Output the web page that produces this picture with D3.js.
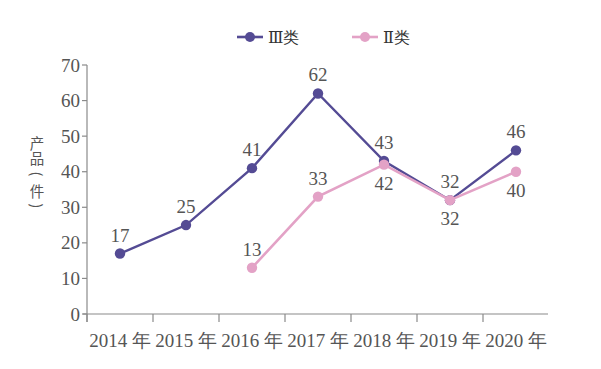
<!DOCTYPE html>
<html>
<head>
<meta charset="utf-8">
<script src="https://cdn.jsdelivr.net/npm/d3@7"></script>
<style>
  body { margin: 0; background: #fff; }
  svg { display: block; }
</style>
</head>
<body>
<svg id="chart" width="601" height="369"></svg>
<script>
const years = ['2014 年', '2015 年', '2016 年', '2017 年', '2018 年', '2019 年', '2020 年'];
const class3 = [17, 25, 41, 62, 43, 32, 46];
const class2 = [null, null, 13, 33, 42, 32, 40];
const yTicks = [0, 10, 20, 30, 40, 50, 60, 70];
// label placement for the pink series: above or below the point
const class2LabelPos = ['', '', 'up', 'up', 'down', 'down', 'down'];

const svg = d3.select('#chart');
const serif = '"Liberation Serif", "DejaVu Serif", serif';
const dark = '#544b94';
const pink = '#e3a2c6';
const axisColor = '#8a8a8a';
const textColor = '#555';

const x = d3.scaleBand().domain(years).range([87, 549]);
const y = d3.scaleLinear().domain([0, 70]).range([314, 65]);

const g = svg.append('g');

// y axis
g.append('line')
  .attr('x1', 87).attr('x2', 87)
  .attr('y1', y(70)).attr('y2', 322)
  .attr('stroke', axisColor).attr('stroke-width', 1.2);

g.selectAll('.ytick')
  .data(yTicks)
  .enter().append('line')
  .attr('x1', 82).attr('x2', 87)
  .attr('y1', d => y(d)).attr('y2', d => y(d))
  .attr('stroke', axisColor).attr('stroke-width', 1.2);

g.selectAll('.ylab')
  .data(yTicks)
  .enter().append('text')
  .attr('x', 80)
  .attr('y', d => y(d) + 6.5)
  .attr('text-anchor', 'end')
  .attr('font-family', serif)
  .attr('font-size', 19)
  .attr('fill', textColor)
  .text(d => d);

// x axis
g.append('line')
  .attr('x1', 83).attr('x2', 548)
  .attr('y1', y(0)).attr('y2', y(0))
  .attr('stroke', axisColor).attr('stroke-width', 1.2);

g.selectAll('.xtick')
  .data(years)
  .enter().append('line')
  .attr('x1', d => x(d)).attr('x2', d => x(d))
  .attr('y1', y(0)).attr('y2', y(0) + 8)
  .attr('stroke', axisColor).attr('stroke-width', 1.2);

g.selectAll('.xlab')
  .data(years)
  .enter().append('text')
  .attr('x', d => x(d) + x.bandwidth() / 2)
  .attr('y', 347)
  .attr('text-anchor', 'middle')
  .attr('font-family', serif)
  .attr('font-size', 19)
  .attr('fill', textColor)
  .text(d => d);

// y axis title, stacked vertically; brackets turned to vertical form
const title = ['产', '品', '(', '件', ')'];
const titleY = [142, 157, 174, 190, 206];
g.selectAll('.ytitle')
  .data(title)
  .enter().append('text')
  .attr('x', 37)
  .attr('y', (d, i) => titleY[i])
  .attr('text-anchor', 'middle')
  .attr('dominant-baseline', 'central')
  .attr('font-family', '"Noto Sans CJK SC", sans-serif')
  .attr('font-size', 14.5)
  .attr('fill', textColor)
  .attr('transform', (d, i) => (d === '(' || d === ')')
    ? 'rotate(90,37,' + titleY[i] + ')' : null)
  .text(d => d);

const cx = (d, i) => x(years[i]) + x.bandwidth() / 2;

function drawSeries(values, color, width) {
  const line = d3.line()
    .defined(d => d != null)
    .x(cx)
    .y(d => y(d));
  g.append('path')
    .datum(values)
    .attr('fill', 'none')
    .attr('stroke', color)
    .attr('stroke-width', width)
    .attr('d', line);
  g.selectAll(null)
    .data(values.map((v, i) => ({ v, i })).filter(d => d.v != null))
    .enter().append('circle')
    .attr('cx', d => cx(d.v, d.i))
    .attr('cy', d => y(d.v))
    .attr('r', 5.2)
    .attr('fill', color);
}

drawSeries(class3, dark, 2.4);
drawSeries(class2, pink, 2.6);

// data labels
g.selectAll('.lab3')
  .data(class3)
  .enter().append('text')
  .attr('x', cx)
  .attr('y', d => y(d) - 12)
  .attr('text-anchor', 'middle')
  .attr('font-family', serif)
  .attr('font-size', 19)
  .attr('fill', textColor)
  .text(d => d);

g.selectAll('.lab2')
  .data(class2.map((v, i) => ({ v, i })).filter(d => d.v != null))
  .enter().append('text')
  .attr('x', d => cx(d.v, d.i))
  .attr('y', d => class2LabelPos[d.i] === 'up' ? y(d.v) - 12 : y(d.v) + 25)
  .attr('text-anchor', 'middle')
  .attr('font-family', serif)
  .attr('font-size', 19)
  .attr('fill', textColor)
  .text(d => d.v);

// legend
const legend = [
  { name: 'Ⅲ类', color: dark, x: 237 },
  { name: 'Ⅱ类', color: pink, x: 352 }
];
const lg = svg.append('g').selectAll('g')
  .data(legend)
  .enter().append('g')
  .attr('transform', d => 'translate(' + d.x + ',37)');
lg.append('line')
  .attr('x1', 0).attr('x2', 26)
  .attr('stroke', d => d.color).attr('stroke-width', 2.6);
lg.append('circle')
  .attr('cx', 13).attr('r', 5)
  .attr('fill', d => d.color);
lg.append('text')
  .attr('x', 31).attr('y', 6)
  .attr('font-family', serif)
  .attr('font-size', 16)
  .attr('fill', '#333')
  .text(d => d.name);
</script>
</body>
</html>
